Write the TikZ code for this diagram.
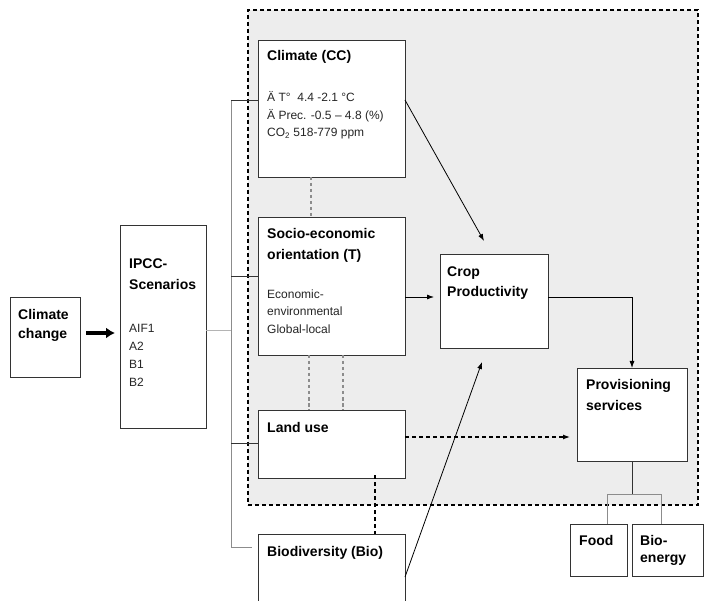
\documentclass[tikz,border=0pt]{standalone}
\usepackage{fontspec}
\setmainfont{Liberation Sans}
\usetikzlibrary{arrows.meta,calc}
\definecolor{regfill}{HTML}{EDEDED}
\definecolor{boxcol}{HTML}{333333}
\definecolor{linegrey}{HTML}{8C8C8C}
\definecolor{lightgrey}{HTML}{B4B4B4}
\begin{document}
\begin{tikzpicture}[x=1pt,y=-1pt,
  box/.style={draw=boxcol, line width=0.9pt, fill=white, anchor=north west, inner sep=0pt, outer sep=0pt},
  region/.style={draw=black, fill=regfill, line width=1.3pt, dash pattern=on 4pt off 3pt, anchor=north west, inner sep=0pt, outer sep=0pt},
  ttl/.style={anchor=base west, inner sep=0pt, font=\fontsize{14}{16}\selectfont\bfseries},
  bod/.style={anchor=base west, inner sep=0pt, text=black!85, font=\fontsize{12}{14}\selectfont},
  arr/.style={-{Latex[length=7pt,width=5pt]}, line width=0.8pt, black},
  bigarr/.style={-{Latex[length=9pt,width=11pt]}, line width=3.2pt, black},
  greyline/.style={draw=linegrey, line width=0.9pt},
  darkline/.style={draw=boxcol, line width=0.9pt},
  greydash/.style={draw=linegrey, line width=1.1pt, dash pattern=on 3.5pt off 2.5pt},
  blackdash/.style={draw=black, line width=1.2pt, dash pattern=on 4pt off 3pt},
  dasharr/.style={-{Latex[length=7pt,width=5pt]}, line width=1.2pt, black, dash pattern=on 4pt off 3pt}]

\useasboundingbox (0,0) rectangle (704,601);
\fill[white] (0,0) rectangle (704,601);

% shaded region
\node[region, minimum width=450pt, minimum height=495pt] (reg) at (248,10) {};

% boxes
\node[box, minimum width=70pt, minimum height=80pt] (ccb) at (10,297) {};
\node[box, minimum width=86pt, minimum height=203pt] (ipcc) at (120,225) {};
\node[box, minimum width=147pt, minimum height=137pt] (clim) at (258,40) {};
\node[box, minimum width=147pt, minimum height=138pt] (socio) at (258,217) {};
\node[box, minimum width=147pt, minimum height=68pt] (land) at (258,410) {};
\node[box, minimum width=147pt, minimum height=80pt] (bio) at (258,534) {};
\node[box, minimum width=108pt, minimum height=94pt] (crop) at (440,254) {};
\node[box, minimum width=110pt, minimum height=93pt] (prov) at (577,368) {};
\node[box, minimum width=57pt, minimum height=52pt] (food) at (570,524) {};
\node[box, minimum width=71pt, minimum height=52pt] (bioe) at (632,524) {};

% texts
\node[ttl] (ccb1) at (18,320) {Climate};
\node[ttl] (ccb2) at (18,339) {change};

\node[ttl] (ip1) at (129,269) {IPCC-};
\node[ttl] (ip2) at (129,290) {Scenarios};
\node[bod] (ip3) at (129,333) {AIF1};
\node[bod] (ip4) at (129,351) {A2};
\node[bod] (ip5) at (129,369) {B1};
\node[bod] (ip6) at (129,387) {B2};

\node[ttl] (cl1) at (267,61) {Climate (CC)};
\node[bod] (cl2) at (267,102) {Ä T°\ \ 4.4 -2.1 °C};
\node[bod] (cl3) at (267,120) {Ä Prec. -0.5 – 4.8 (\%)};
\node[bod] (cl4) at (267,137) {CO\textsubscript{2} 518-779 ppm};

\node[ttl] (so1) at (267,239) {Socio-economic};
\node[ttl] (so2) at (267,260) {orientation (T)};
\node[bod] (so3) at (267,299) {Economic-};
\node[bod] (so4) at (267,316) {environmental};
\node[bod] (so5) at (267,334) {Global-local};

\node[ttl] (la1) at (267,432) {Land use};
\node[ttl] (bi1) at (267,556) {Biodiversity (Bio)};

\node[ttl] (cr1) at (447,277) {Crop};
\node[ttl] (cr2) at (447,297) {Productivity};

\node[ttl] (pr1) at (586,390) {Provisioning};
\node[ttl] (pr2) at (586,410) {services};

\node[ttl] (fo1) at (579,545) {Food};
\node[ttl] (be1) at (640,545) {Bio-};
\node[ttl] (be2) at (640,562) {energy};

% junction coordinates
\coordinate (jtop) at (231,100);
\coordinate (jmid) at (231,330);
\coordinate (jbot) at (231,547);
\coordinate (bioend) at (252,547);
\coordinate (climtip) at (484,241);
\coordinate (biotip) at (482,362);
\coordinate (fork) at (632,494);
\coordinate (forkl) at (607,494);
\coordinate (forkr) at (661,494);

% climate change -> IPCC
\draw[bigarr] ([xshift=6pt,yshift=4pt]ccb.east) -- ([xshift=-5pt,yshift=4pt]ccb.east -| ipcc.west);

% IPCC to distribution line
\draw[draw=lightgrey, line width=0.8pt] (ipcc.east |- jmid) -- (jmid);
\draw[greyline] (jtop) -- (jbot) -- (bioend);
\draw[darkline] (jtop) -- (jtop -| clim.west);
\draw[darkline] (jtop |- 0,276) -- (clim.west |- 0,276);
\draw[darkline] (jtop |- 0,443) -- (land.west |- 0,443);

% dashed links between boxes
\draw[greydash] (clim.south -| 311,0) -- (socio.north -| 311,0);
\draw[greydash] (socio.south -| 309,0) -- (land.north -| 309,0);
\draw[greydash] (socio.south -| 343,0) -- (land.north -| 343,0);
\draw[blackdash] ([yshift=3pt]land.south -| 375,0) -- (bio.north -| 375,0);

% arrows to crop productivity
\draw[arr] (clim.east |- jtop) -- (climtip);
\draw[arr, shorten >=6pt] (socio.east |- 0,297) -- (crop.west |- 0,297);
\draw[arr] (bio.east |- 0,577) -- (biotip);

% crop -> provisioning
\draw[arr] (crop.east |- 0,297) -| (prov.north);

% land use -> provisioning
\draw[dasharr, shorten >=7pt] (land.east |- 0,437) -- (prov.west |- 0,437);

% provisioning -> food / bioenergy
\draw[darkline] (prov.south) -- (fork);
\draw[greyline] (forkl) -- (forkr);
\draw[greyline] (forkl) -- (forkl |- food.north);
\draw[greyline] (forkr) -- (forkr |- bioe.north);
\end{tikzpicture}
\end{document}
